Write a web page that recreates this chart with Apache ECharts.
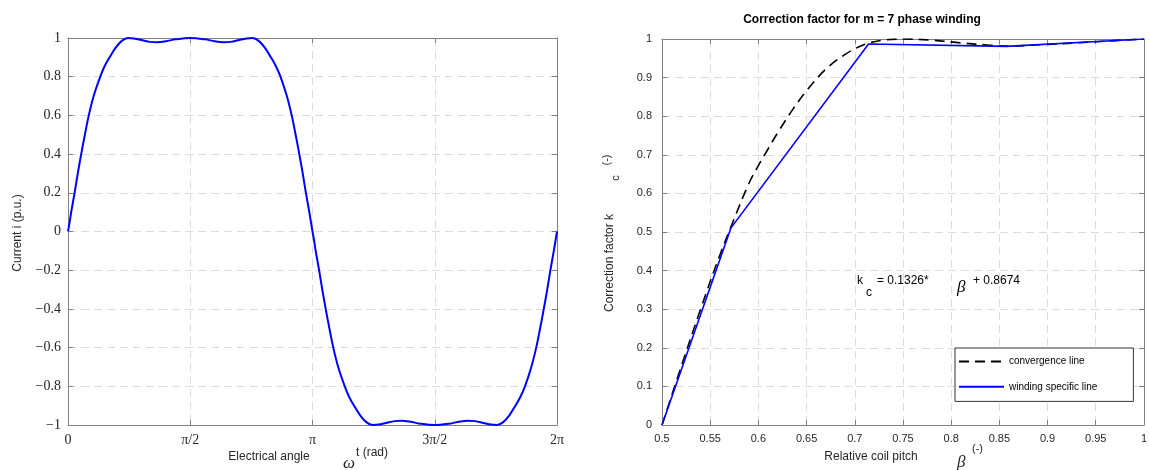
<!DOCTYPE html>
<html><head><meta charset="utf-8">
<script src="https://cdn.jsdelivr.net/npm/echarts@6/dist/echarts.min.js"></script>
<style>html,body{margin:0;padding:0;background:#fff}#c{width:1150px;height:470px}</style>
</head><body><div id="c"></div>
<script>
// Left chart: electrical angle (in units of π) and current (p.u.)
const angle = [0, 0.007, 0.013, 0.027, 0.040, 0.054, 0.069, 0.085, 0.105, 0.132, 0.150, 0.170, 0.195, 0.220, 0.245, 0.270, 0.300, 0.335, 0.365, 0.400, 0.440, 0.500, 0.560, 0.600, 0.635, 0.665, 0.700, 0.730, 0.755, 0.780, 0.805, 0.830, 0.850, 0.869, 0.895, 0.915, 0.931, 0.946, 0.960, 0.973, 0.987, 1.000,
  1.007, 1.013, 1.027, 1.040, 1.054, 1.069, 1.085, 1.105, 1.132, 1.150, 1.170, 1.195, 1.220, 1.245, 1.270, 1.300, 1.335, 1.365, 1.400, 1.440, 1.500, 1.560, 1.600, 1.635, 1.665, 1.700, 1.730, 1.755, 1.780, 1.805, 1.830, 1.850, 1.869, 1.895, 1.915, 1.931, 1.946, 1.960, 1.973, 1.987, 2.000];
const current = [0, 0.05, 0.10, 0.20, 0.30, 0.40, 0.50, 0.60, 0.70, 0.80, 0.855, 0.90, 0.95, 0.985, 1.00, 0.998, 0.99, 0.98, 0.978, 0.983, 0.993, 1.00, 0.993, 0.983, 0.978, 0.98, 0.99, 0.998, 1.00, 0.985, 0.95, 0.90, 0.855, 0.80, 0.70, 0.60, 0.50, 0.40, 0.30, 0.20, 0.10, 0,
  -0.05, -0.10, -0.20, -0.30, -0.40, -0.50, -0.60, -0.70, -0.80, -0.855, -0.90, -0.95, -0.985, -1.00, -0.998, -0.99, -0.98, -0.978, -0.983, -0.993, -1.00, -0.993, -0.983, -0.978, -0.98, -0.99, -0.998, -1.00, -0.985, -0.95, -0.90, -0.855, -0.80, -0.70, -0.60, -0.50, -0.40, -0.30, -0.20, -0.10, 0];
const angleTickLabels = ['0', 'π/2', 'π', '3π/2', '2π'];

// Right chart: relative coil pitch β and correction factor kc
const convPitch = [0.50, 0.52, 0.54, 0.56, 0.575, 0.59, 0.60, 0.61, 0.62, 0.635, 0.65, 0.67, 0.69, 0.71, 0.73, 0.75, 0.78, 0.81, 0.84, 0.86, 0.90, 0.95, 1.00];
const convK = [0, 0.152, 0.300, 0.440, 0.535, 0.625, 0.672, 0.715, 0.757, 0.815, 0.866, 0.922, 0.960, 0.986, 0.997, 1.000, 0.997, 0.990, 0.984, 0.982, 0.986, 0.993, 1.000];
const windPitch = [0.5, 0.5714, 0.7143, 0.8571, 1.0];
const windK = [0, 0.51, 0.987, 0.981, 1.0];
const seriesNames = ['convergence line', 'winding specific line'];

const zip = (a, b) => a.map((v, i) => [v, b[i]]);
const axisGray = '#808080';
const gridLine = { show: true, lineStyle: { color: '#dcdcdc', type: [8, 5], width: 1 } };
const tickIn = { show: true, inside: true, length: 5, lineStyle: { color: axisGray } };
const axLine = { show: true, onZero: false, lineStyle: { color: axisGray, width: 1 } };
const serif = 'Liberation Serif';
const sans = 'Liberation Sans';
const minus = v => String(+v.toFixed(2)).replace('-', '\u2212');

const chart = echarts.init(document.getElementById('c'), null, { renderer: 'canvas' });
chart.setOption({
  animation: false,
  backgroundColor: '#fff',
  grid: [
    { left: 68, top: 38, width: 489, height: 387 },
    { left: 662, top: 39, width: 488, height: 386 }
  ],
  xAxis: [
    { type: 'value', gridIndex: 0, min: 0, max: 2, interval: 0.5, position: 'bottom',
      axisLine: axLine, axisTick: tickIn, splitLine: gridLine,
      axisLabel: { margin: 8, fontFamily: serif, fontSize: 14, color: '#262626',
        formatter: v => angleTickLabels[Math.round(v / 0.5)] } },
    { type: 'value', gridIndex: 0, min: 0, max: 2, interval: 0.5, position: 'top',
      axisLine: axLine, axisTick: tickIn, splitLine: { show: false }, axisLabel: { show: false } },
    { type: 'value', gridIndex: 1, min: 0.5, max: 1, interval: 0.05, position: 'bottom',
      axisLine: axLine, axisTick: tickIn, splitLine: gridLine,
      axisLabel: { margin: 8, fontFamily: sans, fontSize: 11, color: '#262626',
        formatter: v => String(+v.toFixed(2)) } },
    { type: 'value', gridIndex: 1, min: 0.5, max: 1, interval: 0.05, position: 'top',
      axisLine: axLine, axisTick: tickIn, splitLine: { show: false }, axisLabel: { show: false } }
  ],
  yAxis: [
    { type: 'value', gridIndex: 0, min: -1, max: 1, interval: 0.2, position: 'left',
      axisLine: axLine, axisTick: tickIn, splitLine: gridLine,
      axisLabel: { margin: 7, fontFamily: serif, fontSize: 14, color: '#262626', formatter: minus } },
    { type: 'value', gridIndex: 0, min: -1, max: 1, interval: 0.2, position: 'right',
      axisLine: axLine, axisTick: tickIn, splitLine: { show: false }, axisLabel: { show: false } },
    { type: 'value', gridIndex: 1, min: 0, max: 1, interval: 0.1, position: 'left',
      axisLine: axLine, axisTick: tickIn, splitLine: gridLine,
      axisLabel: { margin: 10, fontFamily: sans, fontSize: 11, color: '#262626',
        formatter: v => String(+v.toFixed(2)) } },
    { type: 'value', gridIndex: 1, min: 0, max: 1, interval: 0.1, position: 'right',
      axisLine: axLine, axisTick: tickIn, splitLine: { show: false }, axisLabel: { show: false } }
  ],
  legend: {
    orient: 'vertical', left: 955, top: 348, data: seriesNames,
    itemWidth: 45, itemHeight: 14, itemGap: 14,
    padding: [8, 36, 9, 3],
    backgroundColor: '#fff', borderColor: '#333', borderWidth: 1,
    itemStyle: { opacity: 0 },
    textStyle: { fontFamily: sans, fontSize: 10, color: '#000' }
  },
  series: [
    { type: 'line', name: 'current', xAxisIndex: 0, yAxisIndex: 0, data: zip(angle, current),
      smooth: 0.35, symbol: 'none', lineStyle: { color: '#0000ff', width: 2 } },
    { type: 'line', name: seriesNames[0], xAxisIndex: 2, yAxisIndex: 2, data: zip(convPitch, convK),
      smooth: 0.35, symbol: 'none', itemStyle: { color: '#000' },
      lineStyle: { color: '#000', width: 1.6, type: [10, 6] }, z: 3 },
    { type: 'line', name: seriesNames[1], xAxisIndex: 2, yAxisIndex: 2, data: zip(windPitch, windK),
      symbol: 'none', itemStyle: { color: '#0000ff' },
      lineStyle: { color: '#0000ff', width: 1.6 }, z: 4 }
  ],
  graphic: [
    { type: 'text', x: 862, y: 20, style: { text: 'Correction factor for m = 7 phase winding', font: 'bold 12px Liberation Sans', fill: '#000', align: 'center', verticalAlign: 'middle' } },
    // left axis titles
    { type: 'text', x: 18, y: 233, rotation: Math.PI / 2, style: { text: 'Current i (p.u.)', font: '12px Liberation Sans', fill: '#262626', align: 'center', verticalAlign: 'middle' } },
    { type: 'text', x: 269, y: 457, style: { text: 'Electrical angle', font: '12px Liberation Sans', fill: '#262626', align: 'center', verticalAlign: 'middle' } },
    { type: 'text', x: 343, y: 464, style: { text: 'ω', font: 'italic 17px Liberation Serif', fill: '#262626', align: 'left', verticalAlign: 'middle' } },
    { type: 'text', x: 356, y: 453, style: { text: 't (rad)', font: '12px Liberation Sans', fill: '#262626', align: 'left', verticalAlign: 'middle' } },
    // right axis titles
    { type: 'text', x: 871, y: 457, style: { text: 'Relative coil pitch', font: '12px Liberation Sans', fill: '#262626', align: 'center', verticalAlign: 'middle' } },
    { type: 'text', x: 957, y: 463, style: { text: 'β', font: 'italic 17px Liberation Serif', fill: '#262626', align: 'left', verticalAlign: 'middle' } },
    { type: 'text', x: 972, y: 449, style: { text: '(-)', font: '11px Liberation Sans', fill: '#262626', align: 'left', verticalAlign: 'middle' } },
    { type: 'text', x: 610, y: 263, rotation: Math.PI / 2, style: { text: 'Correction factor k', font: '12px Liberation Sans', fill: '#262626', align: 'center', verticalAlign: 'middle' } },
    { type: 'text', x: 616, y: 178, rotation: Math.PI / 2, style: { text: 'c', font: '11px Liberation Sans', fill: '#262626', align: 'center', verticalAlign: 'middle' } },
    { type: 'text', x: 607, y: 160, rotation: Math.PI / 2, style: { text: '(-)', font: '11px Liberation Sans', fill: '#262626', align: 'center', verticalAlign: 'middle' } },
    // annotation
    { type: 'text', x: 857, y: 281, style: { text: 'k', font: '12px Liberation Sans', fill: '#000', align: 'left', verticalAlign: 'middle' } },
    { type: 'text', x: 866, y: 293, style: { text: 'c', font: '12px Liberation Sans', fill: '#000', align: 'left', verticalAlign: 'middle' } },
    { type: 'text', x: 877, y: 281, style: { text: '= 0.1326*', font: '12px Liberation Sans', fill: '#000', align: 'left', verticalAlign: 'middle' } },
    { type: 'text', x: 957, y: 288, style: { text: 'β', font: 'italic 17px Liberation Serif', fill: '#000', align: 'left', verticalAlign: 'middle' } },
    { type: 'text', x: 973, y: 281, style: { text: '+ 0.8674', font: '12px Liberation Sans', fill: '#000', align: 'left', verticalAlign: 'middle' } }
  ]
});
</script></body></html>
